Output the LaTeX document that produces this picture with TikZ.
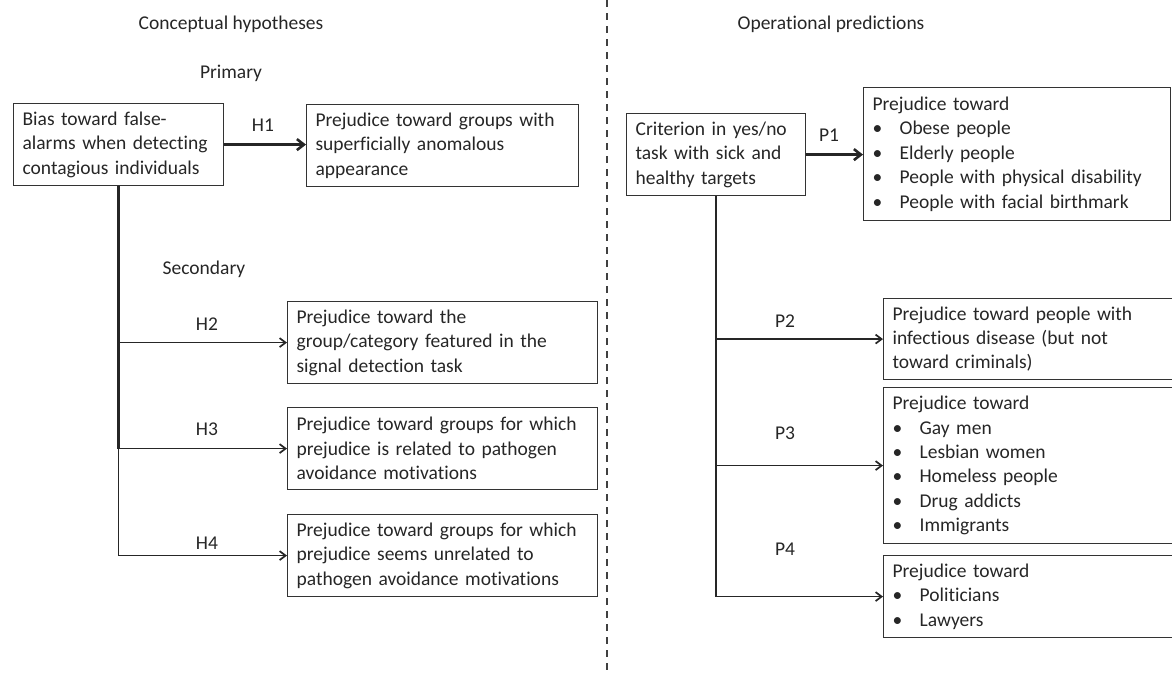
\documentclass[tikz,border=0pt]{standalone}
\usepackage{fontspec}
\setmainfont{Carlito}[Ligatures=NoCommon]
\usetikzlibrary{arrows.meta,positioning}
\newcommand{\bulletitem}[1]{\makebox[27pt][l]{\textbullet}#1}

\begin{document}
\begin{tikzpicture}[
      x=1pt, y=-1pt,
      font=\fontsize{19.5}{24.4}\selectfont,
      text=black!85,
      box/.style={draw=black!80, line width=1.2pt, align=left,
        anchor=north west, inner xsep=9pt, inner ysep=0pt,
        minimum height=82pt},
      heading/.style={inner sep=0pt, anchor=base},
      tag/.style={inner sep=0pt},
      mainarrow/.style={-{Straight Barb[length=7pt,width=11pt]},
        line width=2.6pt, draw=black!85},
      trunk/.style={line width=2.4pt, draw=black!85},
      branch/.style={-{Straight Barb[length=6pt,width=9pt]},
        line width=1.7pt, draw=black!85},
      divider/.style={draw=black!75, line width=1.7pt,
        dash pattern=on 7pt off 6pt}
    ]
    \useasboundingbox (0,0) rectangle (1172,672);

    % headings
    \node[heading] (conc) at (231,29) {Conceptual hypotheses};
    \node[heading] (oper) at (831,29) {Operational predictions};
    \node[heading] (prim) at (231,78) {Primary};
    \node[heading] (secd) at (204,274) {Secondary};

    % conceptual hypotheses
    \node[box, text width=192pt] (hypo) at (13,103) {Bias toward false-\\alarms when detecting\\contagious individuals};
    \node[box, text width=254pt] (hone) at (306,104) {Prejudice toward groups with\\superficially anomalous\\appearance};
    \node[box, text width=292pt] (htwo) at (287,301) {Prejudice toward the\\group/category featured in the\\signal detection task};
    \node[box, text width=292pt] (hthree) at (287,407) {Prejudice toward groups for which\\prejudice is related to pathogen\\avoidance motivations};
    \node[box, text width=292pt] (hfour) at (287,514) {Prejudice toward groups for which\\prejudice seems unrelated to\\pathogen avoidance motivations};

    % operational predictions
    \node[box, text width=161pt] (crit) at (626,113) {Criterion in yes/no\\task with sick and\\healthy targets};
    \node[box, text width=289pt, minimum height=133pt] (pone) at (863,87) {Prejudice toward\\\bulletitem{Obese people}\\\bulletitem{Elderly people}\\\bulletitem{People with physical disability}\\\bulletitem{People with facial birthmark}};
    \node[box, text width=277pt, minimum height=81pt] (ptwo) at (883,298) {Prejudice toward people with\\infectious disease (but not\\toward criminals)};
    \node[box, text width=277pt, minimum height=156pt] (pthree) at (883,387) {Prejudice toward\\\bulletitem{Gay men}\\\bulletitem{Lesbian women}\\\bulletitem{Homeless people}\\\bulletitem{Drug addicts}\\\bulletitem{Immigrants}};
    \node[box, text width=277pt] (pfour) at (883,555) {Prejudice toward\\\bulletitem{Politicians}\\\bulletitem{Lawyers}};

    % connectors, left
    \draw[mainarrow] (hypo.east) -- (hypo.east -| hone.west);
    \draw[trunk] (hypo.south) -- (hypo.south |- hthree.west);
    \draw[branch] (hypo.south) |- (htwo.west);
    \draw[branch] (hypo.south) |- (hthree.west);
    \draw[branch] (hypo.south) |- (hfour.west);
    \node[tag] (lhone) at (263,125) {H1};
    \node[tag] (lhtwo) at (207,324) {H2};
    \node[tag] (lhthree) at (207,429) {H3};
    \node[tag] (lhfour) at (207,543) {H4};

    % connectors, right
    \draw[mainarrow] (crit.east) -- (crit.east -| pone.west);
    \draw[trunk] (crit.south) -- (crit.south |- pthree.west);
    \draw[branch] (crit.south) |- (ptwo.west);
    \draw[branch] (crit.south) |- (pthree.west);
    \draw[branch] (crit.south) |- (pfour.west);
    \node[tag] (lpone) at (829,135) {P1};
    \node[tag] (lptwo) at (785,321) {P2};
    \node[tag] (lpthree) at (785,433) {P3};
    \node[tag] (lpfour) at (785,549) {P4};

    % divider
    \coordinate (divtop) at (607,0);
    \coordinate (divbot) at (607,672);
    \draw[divider] (divtop) -- (divbot);
  \end{tikzpicture}
\end{document}
